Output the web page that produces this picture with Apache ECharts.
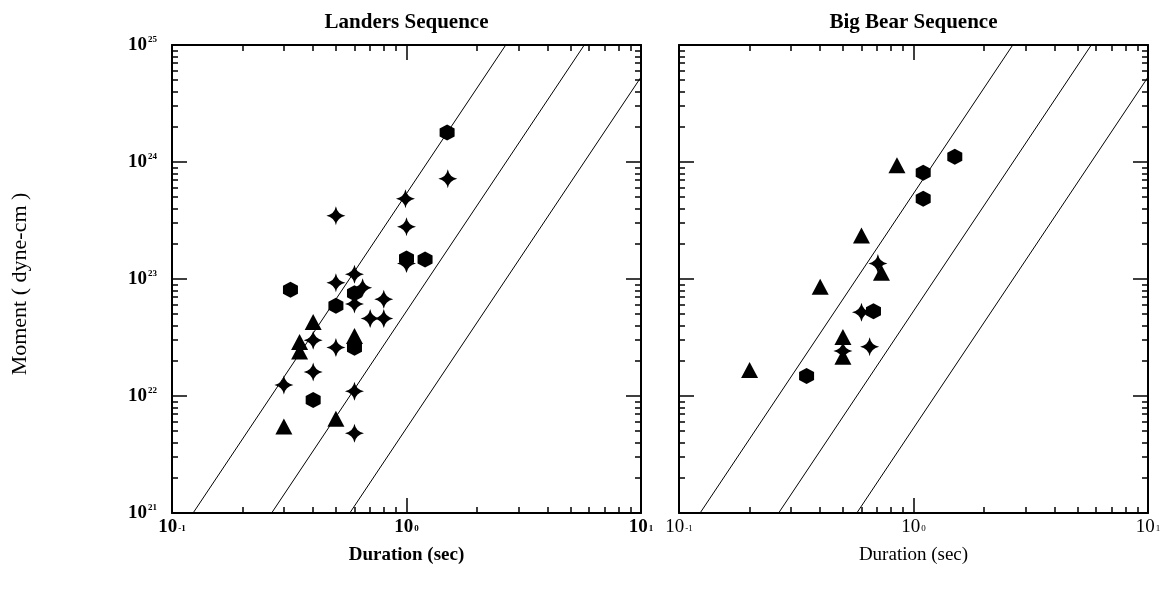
<!DOCTYPE html>
<html><head><meta charset="utf-8">
<script src="https://cdn.jsdelivr.net/npm/echarts@6/dist/echarts.min.js"></script>
<style>html,body{margin:0;padding:0;background:#fff}#c{width:1170px;height:599px}</style>
</head><body><div id="c"></div>
<script>
// ---------- data ----------
const panelTitles = ['Landers Sequence', 'Big Bear Sequence'];
const xAxisName = 'Duration (sec)';
const yAxisName = 'Moment ( dyne-cm )';
const xMajorTicks = [0.1, 1, 10];
const yMajorTicks = [1e21, 1e22, 1e23, 1e24, 1e25];
const minorMultipliers = [2, 3, 4, 5, 6, 7, 8, 9];

// scaling lines (moment ~ duration^3), endpoints [duration, moment]
const scalingLine1 = [[0.123, 1e21], [2.65, 1e25]];
const scalingLine2 = [[0.266, 1e21], [5.73, 1e25]];
const scalingLine3 = [[0.573, 1e21], [10, 5.32e24]];

// Landers sequence [duration s, moment dyne-cm]
const landersHexagon = [[1.49,1.79e24],[1.0,1.5e23],[1.2,1.47e23],[0.32,8.1e22],[0.6,7.55e22],[0.5,5.9e22],[0.6,2.59e22],[0.4,9.25e21]];
const landersStar = [[1.5,7.2e23],[0.99,4.86e23],[0.5,3.47e23],[1.0,2.8e23],[1.0,1.36e23],[0.6,1.1e23],[0.5,9.3e22],[0.65,8.4e22],[0.8,6.7e22],[0.6,6.1e22],[0.7,4.6e22],[0.8,4.6e22],[0.4,3.0e22],[0.5,2.6e22],[0.4,1.6e22],[0.3,1.24e22],[0.6,1.1e22],[0.6,4.8e21]];
const landersTriangle = [[0.4,4.3e22],[0.6,3.26e22],[0.35,2.9e22],[0.35,2.4e22],[0.5,6.4e21],[0.3,5.5e21]];

// Big Bear sequence
const bigBearHexagon = [[1.5,1.11e24],[1.1,8.1e23],[1.1,4.86e23],[0.675,5.3e22],[0.35,1.48e22]];
const bigBearTriangle = [[0.85,9.4e23],[0.6,2.35e23],[0.73,1.13e23],[0.4,8.6e22],[0.5,3.2e22],[0.5,2.17e22],[0.2,1.67e22]];
const bigBearStar = [[0.705,1.36e23],[0.6,5.2e22],[0.5,2.43e22],[0.65,2.64e22]];

// ---------- build ----------
const xMinorTicks = [];
[0.1, 1].forEach(d => minorMultipliers.forEach(k => xMinorTicks.push(+(d * k).toPrecision(3))));
const yMinorTicks = [];
[1e21, 1e22, 1e23, 1e24].forEach(d => minorMultipliers.forEach(k => yMinorTicks.push(d * k)));

const FONT = 'Liberation Serif';
const HEX = 'path://M0,-1 L0.866,-0.5 L0.866,0.5 L0,1 L-0.866,0.5 L-0.866,-0.5 Z';
const STAR = 'path://M0,-1 Q0.16,-0.16 1,0 Q0.16,0.16 0,1 Q-0.16,0.16 -1,0 Q-0.16,-0.16 0,-1 Z';

function expOf(v) { return Math.round(Math.log10(v)); }
function xRich(bold) {
  const w = bold ? 'bold' : 'normal';
  return {
    b: {fontFamily: FONT, fontWeight: w, fontSize: 19, color: '#000', lineHeight: 19},
    s: {fontFamily: FONT, fontWeight: w, fontSize: 9, color: '#000', verticalAlign: 'bottom', padding: [0, 0, 4, 1]}
  };
}
const grids = [
  {left: 172, top: 45, width: 469, height: 468},
  {left: 679, top: 45, width: 469, height: 468}
];
const axisLineStyle = {color: '#000', width: 2};
const tickLine = {color: '#000', width: 1.5};

const xAxes = [], yAxes = [];
[0, 1].forEach(g => {
  const bold = g === 0;
  xAxes.push({gridIndex: g, type: 'log', logBase: 10, min: 0.1, max: 10, position: 'bottom',
    axisLine: {show: true, onZero: false, lineStyle: axisLineStyle},
    axisTick: {show: true, inside: true, length: 15, lineStyle: tickLine, customValues: xMajorTicks},
    axisLabel: {show: true, margin: 5, customValues: xMajorTicks,
      formatter: v => '{b|10}{s|' + expOf(v) + '}', rich: xRich(bold)},
    splitLine: {show: false},
    name: xAxisName, nameLocation: 'middle', nameGap: 33,
    nameTextStyle: {fontFamily: FONT, fontSize: 19, fontWeight: bold ? 'bold' : 'normal', color: '#000'}
  });
  xAxes.push({gridIndex: g, type: 'log', logBase: 10, min: 0.1, max: 10, position: 'bottom',
    axisLine: {show: false}, axisLabel: {show: false}, splitLine: {show: false},
    axisTick: {show: true, inside: true, length: 6, lineStyle: tickLine, customValues: xMinorTicks}});
  xAxes.push({gridIndex: g, type: 'log', logBase: 10, min: 0.1, max: 10, position: 'top',
    axisLine: {show: true, onZero: false, lineStyle: axisLineStyle}, axisLabel: {show: false}, splitLine: {show: false},
    axisTick: {show: true, inside: true, length: 15, lineStyle: tickLine, customValues: xMajorTicks}});
  xAxes.push({gridIndex: g, type: 'log', logBase: 10, min: 0.1, max: 10, position: 'top',
    axisLine: {show: false}, axisLabel: {show: false}, splitLine: {show: false},
    axisTick: {show: true, inside: true, length: 6, lineStyle: tickLine, customValues: xMinorTicks}});

  yAxes.push({gridIndex: g, type: 'log', logBase: 10, min: 1e21, max: 1e25, position: 'left',
    axisLine: {show: true, onZero: false, lineStyle: axisLineStyle},
    axisTick: {show: true, inside: true, length: 15, lineStyle: tickLine, customValues: yMajorTicks},
    axisLabel: {show: g === 0, margin: 15, customValues: yMajorTicks,
      formatter: v => '{b|10}{p|' + expOf(v) + '}',
      rich: {
        b: {fontFamily: FONT, fontWeight: 'bold', fontSize: 19, color: '#000', lineHeight: 20},
        p: {fontFamily: FONT, fontWeight: 'bold', fontSize: 9, color: '#000', verticalAlign: 'top', padding: [0, 0, 0, 1]}
      }},
    splitLine: {show: false}});
  yAxes.push({gridIndex: g, type: 'log', logBase: 10, min: 1e21, max: 1e25, position: 'left',
    axisLine: {show: false}, axisLabel: {show: false}, splitLine: {show: false},
    axisTick: {show: true, inside: true, length: 6, lineStyle: tickLine, customValues: yMinorTicks}});
  yAxes.push({gridIndex: g, type: 'log', logBase: 10, min: 1e21, max: 1e25, position: 'right',
    axisLine: {show: true, onZero: false, lineStyle: axisLineStyle}, axisLabel: {show: false}, splitLine: {show: false},
    axisTick: {show: true, inside: true, length: 15, lineStyle: tickLine, customValues: yMajorTicks}});
  yAxes.push({gridIndex: g, type: 'log', logBase: 10, min: 1e21, max: 1e25, position: 'right',
    axisLine: {show: false}, axisLabel: {show: false}, splitLine: {show: false},
    axisTick: {show: true, inside: true, length: 6, lineStyle: tickLine, customValues: yMinorTicks}});
});

function lineSeries(g, data) {
  return {type: 'line', xAxisIndex: g * 4, yAxisIndex: g * 4, data: data, symbol: 'none',
    lineStyle: {color: '#000', width: 1}, silent: true, clip: true, z: 1};
}
function scatterSeries(g, data, symbol, size) {
  return {type: 'scatter', xAxisIndex: g * 4, yAxisIndex: g * 4, data: data, symbol: symbol,
    symbolSize: size, itemStyle: {color: '#000', opacity: 1}, z: 3};
}
const series = [
  lineSeries(0, scalingLine1), lineSeries(0, scalingLine2), lineSeries(0, scalingLine3),
  lineSeries(1, scalingLine1), lineSeries(1, scalingLine2), lineSeries(1, scalingLine3),
  scatterSeries(0, landersStar, STAR, [19, 19]),
  scatterSeries(0, landersHexagon, HEX, [15, 16]),
  scatterSeries(0, landersTriangle, 'triangle', [17, 16]),
  scatterSeries(1, bigBearStar, STAR, [19, 19]),
  scatterSeries(1, bigBearHexagon, HEX, [15, 16]),
  scatterSeries(1, bigBearTriangle, 'triangle', [17, 16])
];

const chart = echarts.init(document.getElementById('c'), null, {renderer: 'canvas'});
chart.setOption({
  animation: false,
  backgroundColor: '#fff',
  grid: grids,
  xAxis: xAxes,
  yAxis: yAxes,
  series: series,
  graphic: [
    {type: 'text', x: 406.5, y: 23, style: {text: panelTitles[0], font: 'bold 21px "Liberation Serif"', fill: '#000', textAlign: 'center', textVerticalAlign: 'middle', align: 'center', verticalAlign: 'middle'}},
    {type: 'text', x: 913.5, y: 23, style: {text: panelTitles[1], font: 'bold 21px "Liberation Serif"', fill: '#000', textAlign: 'center', textVerticalAlign: 'middle', align: 'center', verticalAlign: 'middle'}},
    {type: 'text', x: 20, y: 284, rotation: Math.PI / 2, style: {text: yAxisName, font: '22px "Liberation Serif"', fill: '#000', textAlign: 'center', textVerticalAlign: 'middle', align: 'center', verticalAlign: 'middle'}}
  ]
});
</script>
</body></html>
